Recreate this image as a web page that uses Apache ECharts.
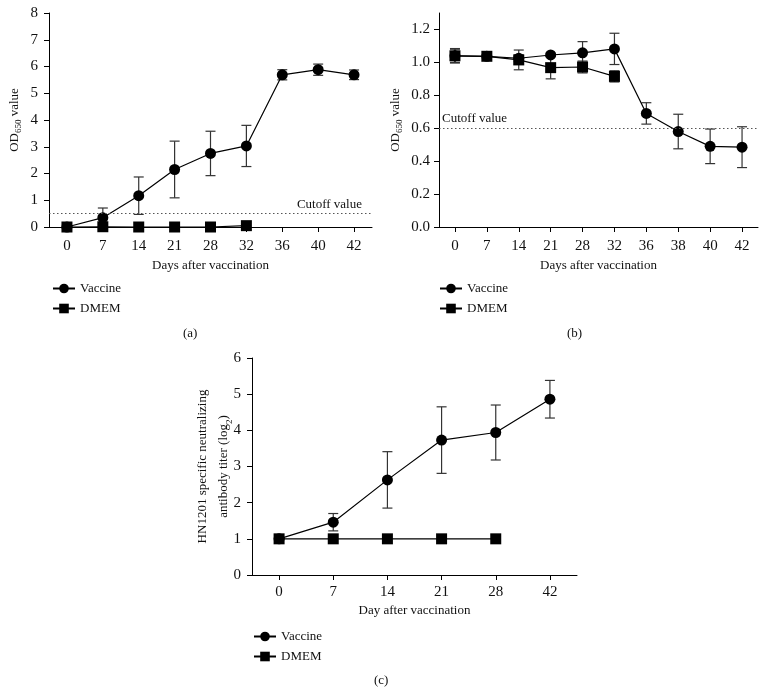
<!DOCTYPE html>
<html>
<head>
<meta charset="utf-8">
<script src="https://cdn.jsdelivr.net/npm/echarts@6/dist/echarts.min.js"></script>
<style>
  html, body { margin: 0; padding: 0; background: #fff; }
  #chart { width: 767px; height: 695px; }
</style>
</head>
<body>
<div id="chart"></div>
<script>
// ---------- Data ----------
// Panel (a)
const daysA = ['0', '7', '14', '21', '28', '32', '36', '40', '42'];
const vaccineA = [0, 0.35, 1.17, 2.15, 2.75, 3.03, 5.69, 5.88, 5.69];
const vaccineAErr = [0.02, 0.36, 0.70, 1.06, 0.83, 0.77, 0.19, 0.21, 0.18];
const dmemA = [0, 0.01, 0, 0, 0, 0.05];
const cutoffA = 0.5;
const yTicksA = [0, 1, 2, 3, 4, 5, 6, 7, 8];

// Panel (b)
const daysB = ['0', '7', '14', '21', '28', '32', '36', '38', '40', '42'];
const vaccineB = [1.04, 1.037, 1.025, 1.045, 1.058, 1.082, 0.69, 0.58, 0.49, 0.485];
const vaccineBErr = [0.04, 0.01, 0.02, 0.01, 0.068, 0.095, 0.065, 0.105, 0.105, 0.124];
const dmemB = [1.04, 1.037, 1.015, 0.968, 0.972, 0.915];
const dmemBErr = [0.044, 0.01, 0.06, 0.068, 0.036, 0.034];
const cutoffB = 0.6;
const yTicksB = [0, 0.2, 0.4, 0.6, 0.8, 1.0, 1.2];

// Panel (c)
const daysC = ['0', '7', '14', '21', '28', '42'];
const vaccineC = [1, 1.46, 2.63, 3.73, 3.94, 4.86];
const vaccineCErr = [0, 0.24, 0.78, 0.92, 0.76, 0.52];
const dmemC = [1, 1, 1, 1, 1];
const yTicksC = [0, 1, 2, 3, 4, 5, 6];

// ---------- Styling ----------
const FONT = 'Liberation Serif';
const TICK_FS = 15;
const TXT_FS = 13;

function errData(vals, errs) {
  return vals.map((v, i) => [i, v - errs[i], v + errs[i]]);
}

function errSeries(xi, yi, vals, errs, name) {
  return {
    type: 'custom',
    name: name + ' err',
    xAxisIndex: xi,
    yAxisIndex: yi,
    z: 1,
    silent: true,
    data: errData(vals, errs),
    renderItem: function (params, api) {
      const lo = api.coord([api.value(0), api.value(1)]);
      const hi = api.coord([api.value(0), api.value(2)]);
      const hw = 5;
      const style = { stroke: '#333', lineWidth: 1.2, fill: null };
      return {
        type: 'group',
        children: [
          { type: 'line', shape: { x1: lo[0], y1: lo[1], x2: hi[0], y2: hi[1] }, style: style },
          { type: 'line', shape: { x1: lo[0] - hw, y1: lo[1], x2: lo[0] + hw, y2: lo[1] }, style: style },
          { type: 'line', shape: { x1: hi[0] - hw, y1: hi[1], x2: hi[0] + hw, y2: hi[1] }, style: style }
        ]
      };
    }
  };
}

function lineSeries(xi, yi, name, vals, symbol, size) {
  return {
    type: 'line',
    name: name,
    xAxisIndex: xi,
    yAxisIndex: yi,
    data: vals,
    symbol: symbol,
    symbolSize: size,
    showAllSymbol: true,
    z: 3,
    lineStyle: { color: '#000', width: 1.2 },
    itemStyle: { color: '#000', borderWidth: 0 },
    emphasis: { disabled: true },
    animation: false
  };
}

function cutoffLine(value, pos, dist) {
  return {
    silent: true,
    symbol: 'none',
    lineStyle: { color: '#555', type: [1.5, 2.5], width: 1 },
    label: {
      show: true,
      position: pos,
      formatter: 'Cutoff value',
      fontFamily: FONT,
      fontSize: TXT_FS,
      color: '#111',
      distance: dist
    },
    data: [{ yAxis: value }]
  };
}

const axisLineStyle = { show: true, lineStyle: { color: '#000', width: 1 } };
const axisTickStyle = { show: true, length: 5, lineStyle: { color: '#000', width: 1 } };
const labelStyle = { fontFamily: FONT, fontSize: TICK_FS, color: '#111' };
function nameStyle(lh) {
  return {
    fontFamily: FONT, fontSize: TXT_FS, color: '#111', lineHeight: lh,
    rich: {
      n: { fontFamily: FONT, fontSize: TXT_FS, color: '#111', lineHeight: lh },
      sub: { fontFamily: FONT, fontSize: 9, color: '#111', verticalAlign: 'bottom', padding: [6, 0, 0, 0] }
    }
  };
}

function xAxis(gi, cats, name, gap, margin) {
  return {
    type: 'category',
    gridIndex: gi,
    data: cats,
    boundaryGap: true,
    name: name,
    nameLocation: 'middle',
    nameGap: gap,
    nameTextStyle: { fontFamily: FONT, fontSize: TXT_FS, color: '#111' },
    axisLine: axisLineStyle,
    axisTick: Object.assign({ alignWithLabel: true }, axisTickStyle),
    axisLabel: Object.assign({ margin: margin }, labelStyle),
    splitLine: { show: false }
  };
}

function yAxis(gi, min, max, ticks, name, gap, dec, lh, margin) {
  return {
    type: 'value',
    gridIndex: gi,
    min: min,
    max: max,
    name: name,
    nameLocation: 'middle',
    nameGap: gap,
    nameMoveOverlap: false,
    nameRotate: 90,
    nameTextStyle: nameStyle(lh),
    axisLine: axisLineStyle,
    axisTick: Object.assign({ customValues: ticks }, axisTickStyle),
    axisLabel: Object.assign({
      margin: margin,
      customValues: ticks,
      formatter: v => Number(v).toFixed(dec)
    }, labelStyle),
    splitLine: { show: false }
  };
}

function legend(left, top) {
  return {
    orient: 'vertical',
    left: left,
    top: top,
    itemWidth: 22,
    itemHeight: 12,
    itemGap: 7,
    data: ['Vaccine', 'DMEM'],
    selectedMode: false,
    textStyle: { fontFamily: FONT, fontSize: TXT_FS, color: '#111' }
  };
}

const sA = lineSeries(0, 0, 'Vaccine', vaccineA, 'circle', 11);
sA.markLine = cutoffLine(cutoffA, 'insideEndTop', [10, 3]);
const sB = lineSeries(1, 1, 'Vaccine', vaccineB, 'circle', 11);
sB.markLine = cutoffLine(cutoffB, 'insideStartTop', [3, 3]);

const option = {
  backgroundColor: '#fff',
  animation: false,
  grid: [
    { left: 49, top: 13, width: 323, height: 214 },
    { left: 439, top: 13, width: 319, height: 214 },
    { left: 252, top: 358, width: 325, height: 217 }
  ],
  xAxis: [
    xAxis(0, daysA, 'Days after vaccination', 32, 12),
    xAxis(1, daysB, 'Days after vaccination', 32, 12),
    xAxis(2, daysC, 'Day after vaccination', 29, 10)
  ],
  yAxis: [
    yAxis(0, 0, 8, yTicksA, '{n|OD}{sub|650}{n| value}', 26, 0, 16, 11),
    yAxis(1, 0, 1.3, yTicksB, '{n|OD}{sub|650}{n| value}', 35, 1, 16, 9),
    yAxis(2, 0, 6, yTicksC, '{n|HN1201 specific neutralizing}\n{n|antibody titer (log}{sub|2}{n|)}', 18, 0, 21, 11)
  ],
  legend: [legend(47, 277), legend(434, 277), legend(248, 625)],
  graphic: [
    { type: 'text', left: 183, top: 327, style: { text: '(a)', font: TXT_FS + 'px ' + FONT, fill: '#111' } },
    { type: 'text', left: 567, top: 327, style: { text: '(b)', font: TXT_FS + 'px ' + FONT, fill: '#111' } },
    { type: 'text', left: 374, top: 674, style: { text: '(c)', font: TXT_FS + 'px ' + FONT, fill: '#111' } }
  ],
  series: [
    errSeries(0, 0, vaccineA, vaccineAErr, 'Vaccine'),
    sA,
    lineSeries(0, 0, 'DMEM', dmemA, 'rect', 11),

    errSeries(1, 1, vaccineB, vaccineBErr, 'Vaccine'),
    errSeries(1, 1, dmemB, dmemBErr, 'DMEM'),
    sB,
    lineSeries(1, 1, 'DMEM', dmemB, 'rect', 11),

    errSeries(2, 2, vaccineC, vaccineCErr, 'Vaccine'),
    lineSeries(2, 2, 'Vaccine', vaccineC, 'circle', 11),
    lineSeries(2, 2, 'DMEM', dmemC, 'rect', 11)
  ]
};

const chart = echarts.init(document.getElementById('chart'), null, { renderer: 'canvas' });
chart.setOption(option);
</script>
</body>
</html>
